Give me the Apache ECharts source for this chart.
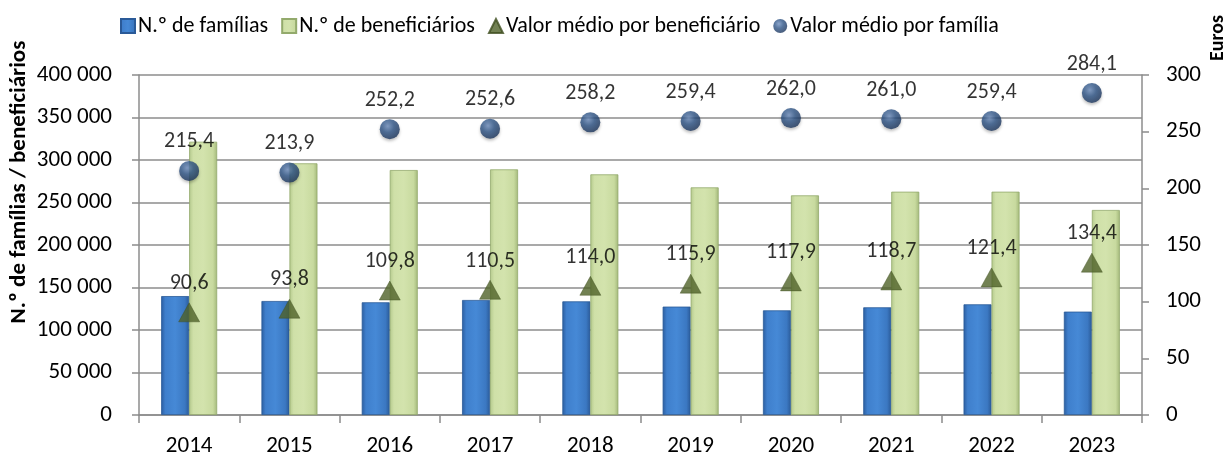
<!DOCTYPE html>
<html>
<head>
<meta charset="utf-8">
<script src="https://cdn.jsdelivr.net/npm/echarts@6/dist/echarts.min.js"></script>
<style>
  html, body { margin: 0; padding: 0; background: #ffffff; }
  #chart { width: 1231px; height: 454px; }
</style>
</head>
<body>
<div id="chart"></div>
<script>
const years = ['2014', '2015', '2016', '2017', '2018', '2019', '2020', '2021', '2022', '2023'];
const familias = [139900, 134100, 132600, 135300, 133700, 127500, 123100, 126700, 130200, 121600];
const beneficiarios = [321500, 296100, 288200, 289000, 283100, 267800, 258400, 262700, 262700, 241200];
const valorBeneficiario = [90.6, 93.8, 109.8, 110.5, 114.0, 115.9, 117.9, 118.7, 121.4, 134.4];
const valorFamilia = [215.4, 213.9, 252.2, 252.6, 258.2, 259.4, 262.0, 261.0, 259.4, 284.1];

const FONT = 'Calibri, Carlito, Lato, sans-serif';
const gridColor = '#8c8c8c';

function fmtThousands(v) {
  return String(v).replace(/\B(?=(\d{3})+(?!\d))/g, ' ');
}
function fmtDec(v) {
  return v.toFixed(1).replace('.', ',');
}

const blueGrad = new echarts.graphic.LinearGradient(0, 0, 1, 0, [
  { offset: 0, color: '#2b5d9f' },
  { offset: 0.15, color: '#3f7fcc' },
  { offset: 0.5, color: '#4689d6' },
  { offset: 0.85, color: '#3b78c2' },
  { offset: 1, color: '#2a5a98' }
]);
const greenGrad = new echarts.graphic.LinearGradient(0, 0, 1, 0, [
  { offset: 0, color: '#b4c98c' },
  { offset: 0.15, color: '#cfe0a8' },
  { offset: 0.5, color: '#d3e3ad' },
  { offset: 0.85, color: '#c8da9f' },
  { offset: 1, color: '#a3b87a' }
]);
const ballGrad = new echarts.graphic.RadialGradient(0.4, 0.35, 0.7, [
  { offset: 0, color: '#6f8fbf' },
  { offset: 0.45, color: '#2f5587' },
  { offset: 1, color: '#1a3258' }
]);

const chart = echarts.init(document.getElementById('chart'), null, { renderer: 'canvas' });

chart.setOption({
  animation: false,
  backgroundColor: '#ffffff',
  textStyle: { fontFamily: FONT },
  legend: {
    top: 10,
    left: 115,
    itemWidth: 14,
    itemHeight: 14,
    itemGap: 13,
    textStyle: { fontFamily: FONT, fontSize: 22, color: '#000000', padding: [0, 0, 0, -2] },
    data: [
      { name: 'N.º de famílias', icon: 'rect' },
      { name: 'N.º de beneficiários', icon: 'rect' },
      { name: 'Valor médio por beneficiário', icon: 'triangle' },
      { name: 'Valor médio por família', icon: 'circle' }
    ]
  },
  grid: { left: 139, right: 89, top: 75, bottom: 39, containLabel: false, outerBoundsMode: 'none' },
  graphic: [
    {
      type: 'text',
      x: 1218,
      y: 38,
      rotation: Math.PI / 2,
      style: {
        text: 'Euros',
        fontFamily: FONT,
        fontSize: 20,
        fontWeight: 'bold',
        fill: '#000000',
        align: 'center',
        verticalAlign: 'middle'
      }
    }
  ],
  xAxis: {
    type: 'category',
    data: years,
    axisLine: { show: true, lineStyle: { color: gridColor, width: 1.5 } },
    axisTick: { show: true, length: 8, lineStyle: { color: gridColor, width: 1.5 } },
    axisLabel: { fontFamily: FONT, fontSize: 23, color: '#000000', margin: 20 },
    splitLine: { show: false }
  },
  yAxis: [
    {
      type: 'value',
      min: 0,
      max: 400000,
      interval: 50000,
      name: 'N.º de famílias / beneficiários',
      nameLocation: 'middle',
      nameRotate: 90,
      nameGap: 108,
      nameMoveOverlap: false,
      nameTextStyle: { fontFamily: FONT, fontSize: 23, fontWeight: 'bold', color: '#000000', padding: [0, 0, 0, 126] },
      axisLine: { show: true, lineStyle: { color: gridColor, width: 1.5 } },
      axisTick: { show: true, length: 7, lineStyle: { color: gridColor, width: 1.5 } },
      axisLabel: { fontFamily: FONT, fontSize: 23, color: '#000000', margin: 27, formatter: fmtThousands },
      splitLine: { show: true, lineStyle: { color: gridColor, width: 1.5 } }
    },
    {
      type: 'value',
      min: 0,
      max: 300,
      interval: 50,
      position: 'right',
      axisLine: { show: true, lineStyle: { color: gridColor, width: 1.5 } },
      axisTick: { show: true, length: 7, lineStyle: { color: gridColor, width: 1.5 } },
      axisLabel: { fontFamily: FONT, fontSize: 23, color: '#000000', margin: 24 },
      splitLine: { show: false }
    }
  ],
  series: [
    {
      name: 'N.º de famílias',
      type: 'bar',
      yAxisIndex: 0,
      data: familias,
      barWidth: 28,
      barGap: '0%',
      itemStyle: { color: blueGrad, borderColor: '#2a5a98', borderWidth: 0.8 },
      z: 2
    },
    {
      name: 'N.º de beneficiários',
      type: 'bar',
      yAxisIndex: 0,
      data: beneficiarios,
      barWidth: 28,
      barGap: '0%',
      itemStyle: { color: greenGrad, borderColor: '#93aa6c', borderWidth: 0.8 },
      z: 2
    },
    {
      name: 'Valor médio por beneficiário',
      type: 'scatter',
      yAxisIndex: 1,
      data: valorBeneficiario,
      symbol: 'triangle',
      symbolSize: [21, 19],
      itemStyle: { color: '#4f6228', borderColor: '#3e4e1f', borderWidth: 0.5 },
      label: {
        show: true,
        position: 'top',
        distance: 8,
        fontFamily: FONT,
        fontSize: 22,
        color: '#000000',
        formatter: p => fmtDec(p.value)
      },
      z: 5
    },
    {
      name: 'Valor médio por família',
      type: 'scatter',
      yAxisIndex: 1,
      data: valorFamilia,
      symbol: 'circle',
      symbolSize: 20,
      itemStyle: { color: ballGrad, shadowColor: 'rgba(0,0,0,0.3)', shadowBlur: 3, shadowOffsetY: 2 },
      label: {
        show: true,
        position: 'top',
        distance: 8,
        fontFamily: FONT,
        fontSize: 22,
        color: '#000000',
        formatter: p => fmtDec(p.value)
      },
      z: 5
    }
  ]
});
</script>
</body>
</html>
